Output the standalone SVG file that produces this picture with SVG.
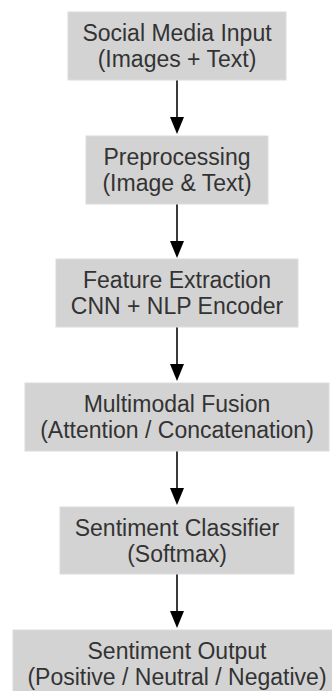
<svg xmlns="http://www.w3.org/2000/svg" width="332" height="691" viewBox="0 0 332 691">
<defs>
<style>
.box{fill:#d3d3d3;stroke:#dcdcdc;stroke-width:1}
.t{font-family:"Liberation Sans",Arial,sans-serif;font-size:23px;fill:#333;text-anchor:middle}
.edge{stroke:#3a3a3a;stroke-width:2;fill:none}
.head{fill:#000}
</style>
</defs>
<rect width="332" height="691" fill="#fff"/>
<g id="connectors">
<path class="edge" d="M177,80 V118"/><path class="head" d="M170,117 H184 L177,134 Z"/>
<path class="edge" d="M177,204 V242"/><path class="head" d="M170,241 H184 L177,258 Z"/>
<path class="edge" d="M177,327 V365"/><path class="head" d="M170,364 H184 L177,381 Z"/>
<path class="edge" d="M177,451 V489"/><path class="head" d="M170,488 H184 L177,505 Z"/>
<path class="edge" d="M177,574 V612"/><path class="head" d="M170,611 H184 L177,628 Z"/>
</g>
<g id="n1"><rect class="box" x="68" y="12" width="218" height="68"/><text class="t" x="177" y="41">Social Media Input</text><text class="t" x="177" y="67">(Images + Text)</text></g>
<g id="n2"><rect class="box" x="86" y="136" width="182" height="68"/><text class="t" x="177" y="165">Preprocessing</text><text class="t" x="177" y="191">(Image &amp; Text)</text></g>
<g id="n3"><rect class="box" x="56" y="259" width="242" height="68"/><text class="t" x="177" y="288">Feature Extraction</text><text class="t" x="177" y="314">CNN + NLP Encoder</text></g>
<g id="n4"><rect class="box" x="25" y="383" width="304" height="68"/><text class="t" x="177" y="412">Multimodal Fusion</text><text class="t" x="177" y="438">(Attention / Concatenation)</text></g>
<g id="n5"><rect class="box" x="60" y="507" width="234" height="67"/><text class="t" x="177" y="536">Sentiment Classifier</text><text class="t" x="177" y="562">(Softmax)</text></g>
<g id="n6"><rect class="box" x="13" y="630" width="328" height="68"/><text class="t" x="177" y="659">Sentiment Output</text><text class="t" x="177" y="685">(Positive / Neutral / Negative)</text></g>
</svg>
